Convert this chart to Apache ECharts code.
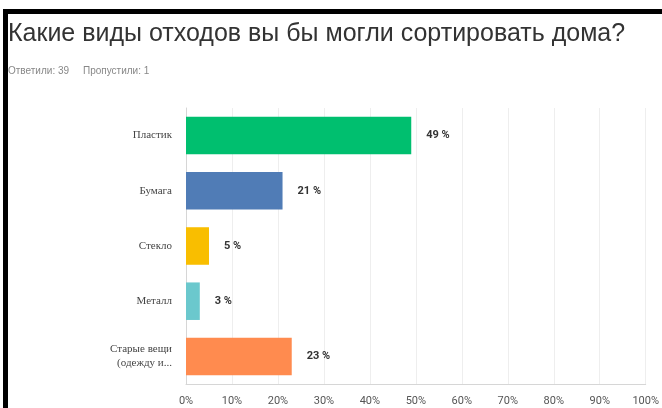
<!DOCTYPE html>
<html>
<head>
<meta charset="utf-8">
<script src="https://cdn.jsdelivr.net/npm/echarts@6/dist/echarts.min.js"></script>
<style>
  html, body { margin: 0; padding: 0; background: #fff; }
  #main { width: 662px; height: 408px; }
</style>
</head>
<body>
<div id="main"></div>
<script>
// survey answers, percent of respondents
var categories = ['Пластик', 'Бумага', 'Стекло', 'Металл', 'Старые вещи\n(одежду и...'];
var values = [49, 21, 5, 3, 23];
var barColors = ['#00bf6f', '#507cb6', '#f9be00', '#6bc8cd', '#ff8b4f'];
var xTicks = [0, 10, 20, 30, 40, 50, 60, 70, 80, 90, 100];

var myChart = echarts.init(document.getElementById('main'));

var option = {
    backgroundColor: '#fff',
    animation: false,
    title: {
        text: 'Какие виды отходов вы бы могли сортировать дома?',
        subtext: 'Ответили: 39     Пропустили: 1',
        left: 3,
        top: 17,
        itemGap: 19,
        textStyle: {
            fontFamily: 'Liberation Sans',
            fontSize: 25,
            fontWeight: 'normal',
            color: '#333'
        },
        subtextStyle: {
            fontFamily: 'Liberation Sans',
            fontSize: 10,
            color: '#888'
        }
    },
    grid: {
        left: 186,
        right: 10,
        top: 108,
        bottom: 24
    },
    xAxis: {
        type: 'value',
        min: 0,
        max: 100,
        interval: 10,
        axisLine: { show: true, lineStyle: { color: '#d6d6d6' } },
        axisTick: { show: false },
        splitLine: { show: true, lineStyle: { color: '#eeeeee' } },
        axisLabel: {
            margin: 12,
            fontFamily: 'Roboto',
            fontSize: 11,
            color: '#555',
            formatter: function(v) {
                return xTicks.indexOf(v) >= 0 ? v + '%' : '';
            }
        }
    },
    yAxis: {
        type: 'category',
        inverse: true,
        data: categories,
        axisLine: { show: true, lineStyle: { color: '#d6d6d6' } },
        axisTick: { show: false },
        axisLabel: {
            margin: 14,
            fontFamily: 'Liberation Serif',
            fontSize: 11,
            lineHeight: 14,
            color: '#444'
        }
    },
    series: [{
        type: 'bar',
        barCategoryGap: '32%',
        data: values.map(function(v, i) {
            return {
                value: v,
                itemStyle: { color: barColors[i] }
            };
        }),
        label: {
            show: true,
            position: 'right',
            distance: 15,
            fontFamily: 'Roboto',
            fontSize: 11,
            fontWeight: 'bold',
            color: '#333',
            formatter: '{c} %'
        }
    }],
    graphic: [
        { type: 'rect', shape: { x: 3, y: 9, width: 659, height: 5 }, style: { fill: '#000' } },
        { type: 'rect', shape: { x: 3, y: 9, width: 5, height: 399 }, style: { fill: '#000' } }
    ]
};

myChart.setOption(option);
</script>
</body>
</html>
